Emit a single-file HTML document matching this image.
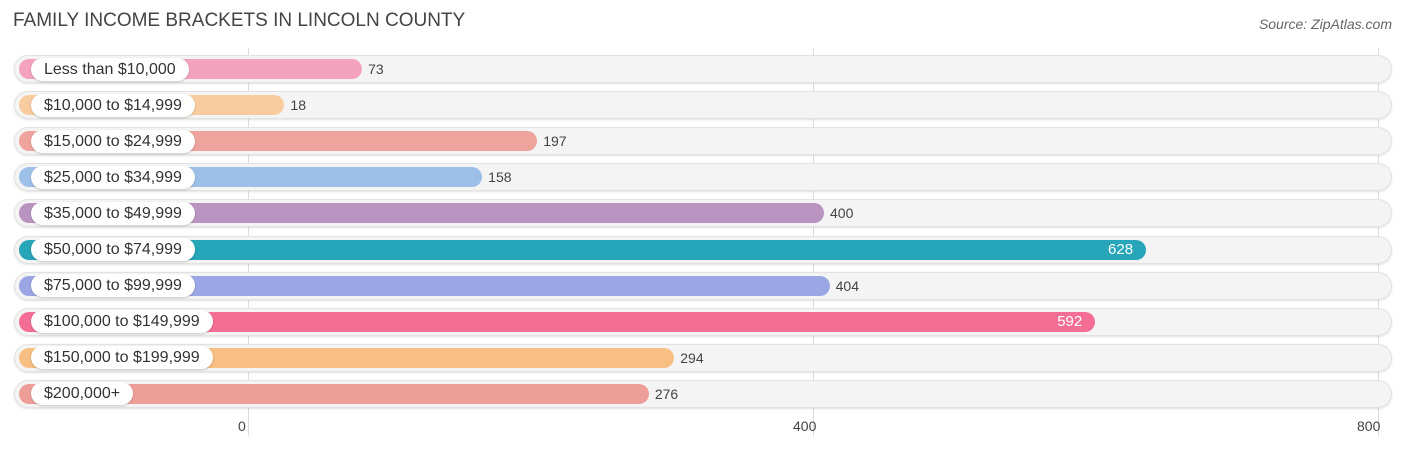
<!DOCTYPE html>
<html><head><meta charset="utf-8"><style>
body{margin:0;width:1406px;height:450px;background:#fff;font-family:"Liberation Sans",sans-serif;position:relative;overflow:hidden}
.abs{position:absolute}
.title{left:13px;top:10px;font-size:19px;color:#444}
.src{right:14px;top:16px;font-size:14px;color:#666;font-style:italic}
.grid{width:1px;background:#ddd;top:48px;height:388px}
.tick{top:418px;font-size:14px;color:#444;transform:translateX(-50%)}
.row{left:14px;width:1378px;height:28px;border-radius:14px;background:#f4f4f4;box-shadow:0 0 0 1px #e2e2e2 inset,0 1px 2px rgba(0,0,0,.12)}
.bar{height:20px;border-radius:10px;left:19px}
.pill{left:31px;height:23px;border-radius:12px;background:#fff;font-size:16px;color:#333;line-height:23px;padding:0 13px;box-shadow:0 1px 2px rgba(0,0,0,.2)}
.val{font-size:14px;color:#444;line-height:20px}
.vin{color:#fff;font-size:15px}
</style></head><body>
<div class="abs title">FAMILY INCOME BRACKETS IN LINCOLN COUNTY</div>
<div class="abs src">Source: ZipAtlas.com</div>
<div id="chart"></div>
<script>
const categories=["Less than $10,000","$10,000 to $14,999","$15,000 to $24,999","$25,000 to $34,999","$35,000 to $49,999","$50,000 to $74,999","$75,000 to $99,999","$100,000 to $149,999","$150,000 to $199,999","$200,000+"];
const values=[73,18,197,158,400,628,404,592,294,276];
const colors=["#f4a3bf","#f9cc9f","#eea39c","#9dc0e8","#b994c0","#26a6b8","#9ba6e4","#f46d95","#f8bf84","#ee9e98"];
const ticks=[0,400,800];
const gx=v=>248+v*565/400;
const bx=v=>259+v*565/400;
const rowY=i=>69+i*36.1;
const c=document.getElementById('chart');
function mk(cls,style,txt){const d=document.createElement('div');d.className='abs '+cls;Object.assign(d.style,style);if(txt!==undefined)d.textContent=txt;c.appendChild(d);return d;}
ticks.forEach(t=>{
 const g=mk('grid',{left:gx(t)+'px'});
 
 
});
categories.forEach((cat,i)=>{
 const y=rowY(i),v=values[i];
 const r=mk('row',{top:(y-14)+'px'});
 
 
 const b=mk('bar',{top:(y-10)+'px',width:(bx(v)-19)+'px',background:colors[i]});
 
 
 const p=mk('pill',{top:(y-11.5)+'px'},cat);
 
 
 const inside=v>500;
 const l=mk('val'+(inside?' vin':''),inside?{top:(y-10)+'px',left:(bx(v)-38)+'px'}:{top:(y-10)+'px',left:(bx(v)+6)+'px'},String(v));
 
 
});
ticks.forEach(t=>{
 const k=mk('tick',{left:(t===0?238:t===800?1357:gx(t)-20)+'px',transform:'none'},String(t));
 
 
});
</script>
</body></html>
